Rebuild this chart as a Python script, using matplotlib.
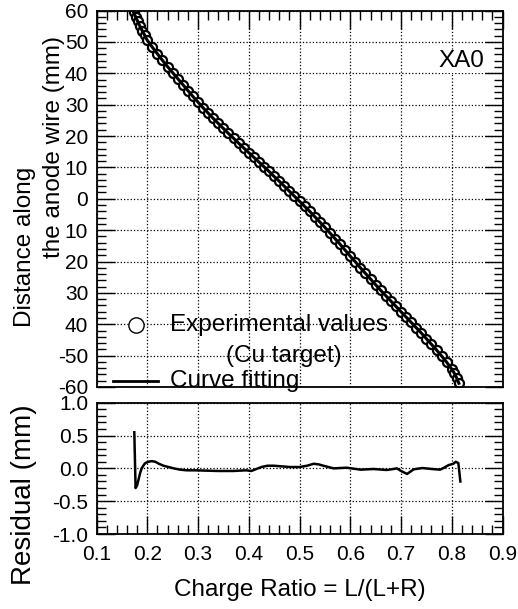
import numpy as np
import matplotlib
matplotlib.use("Agg")
import matplotlib.pyplot as plt
from matplotlib.ticker import MultipleLocator, FixedLocator, FixedFormatter

plt.rcParams['font.family'] = ['Liberation Sans', 'DejaVu Sans']

# position along the wire vs. charge ratio
ratio = [0.173, 0.177, 0.181, 0.185, 0.190, 0.195, 0.200, 0.210, 0.220, 0.230,
         0.240, 0.250, 0.260, 0.270, 0.280, 0.290, 0.300, 0.310, 0.320, 0.330,
         0.340, 0.350, 0.360, 0.370, 0.380, 0.390, 0.400, 0.410, 0.420, 0.430,
         0.440, 0.450, 0.460, 0.470, 0.480, 0.490, 0.500, 0.510, 0.520, 0.530,
         0.540, 0.550, 0.560, 0.570, 0.580, 0.590, 0.600, 0.610, 0.620, 0.630,
         0.640, 0.650, 0.660, 0.670, 0.680, 0.690, 0.700, 0.710, 0.720, 0.730,
         0.740, 0.750, 0.760, 0.770, 0.780, 0.790, 0.800, 0.805, 0.810, 0.814]
distance = [59.5, 58.0, 56.6, 55.2, 53.6, 52.1, 50.5, 48.3, 46.2, 44.1,
            42.1, 40.2, 38.3, 36.4, 34.5, 32.6, 30.8, 29.0, 27.3, 25.6,
            24.0, 22.4, 20.8, 19.3, 17.7, 16.2, 14.7, 13.2, 11.7, 10.2,
            8.7, 7.1, 5.6, 4.0, 2.4, 0.8, -0.8, -2.4, -4.0, -5.7,
            -7.4, -9.1, -10.9, -12.7, -14.5, -16.4, -18.3, -20.1, -22.0, -23.8,
            -25.6, -27.4, -29.2, -30.9, -32.6, -34.3, -36.0, -37.7, -39.4, -41.1,
            -42.8, -44.6, -46.4, -48.2, -50.1, -52.1, -54.3, -55.6, -57.2, -58.8]

# residual of the fit
res_x = [0.1745, 0.1770, 0.1800, 0.1825, 0.1860, 0.1890, 0.1930, 0.1960, 0.2020, 0.2090,
         0.2160, 0.2230, 0.2320, 0.2420, 0.2520, 0.2650, 0.2780, 0.2950, 0.3170, 0.3400,
         0.3690, 0.3950, 0.4050, 0.4150, 0.4250, 0.4370, 0.4490, 0.4650, 0.4820, 0.5000,
         0.5150, 0.5280, 0.5380, 0.5470, 0.5670, 0.5930, 0.6200, 0.6460, 0.6720, 0.6850,
         0.6920, 0.7000, 0.7120, 0.7250, 0.7420, 0.7610, 0.7770, 0.7850, 0.7940, 0.8030,
         0.8080, 0.8130, 0.8170]
res_y = [0.55, -0.30, -0.26, -0.18, -0.07, 0.00, 0.05, 0.08, 0.10, 0.11,
         0.10, 0.07, 0.04, 0.02, 0.00, -0.02, -0.03, -0.03, -0.035, -0.04,
         -0.04, -0.03, -0.04, -0.01, 0.02, 0.04, 0.04, 0.03, 0.02, 0.02,
         0.04, 0.07, 0.06, 0.04, 0.00, 0.01, -0.02, -0.01, -0.025, -0.01,
         0.00, -0.04, -0.085, -0.015, 0.005, -0.01, -0.02, 0.01, 0.05, 0.07,
         0.10, 0.08, -0.20]

dist_ticks = [60, 50, 40, 30, 20, 10, 0, -10, -20, -30, -40, -50, -60]
dist_labels = ['60', '50', '40', '30', '20', '10', '0', '10', '20', '30', '40', '-50', '-60']
res_ticks = [1.0, 0.5, 0.0, -0.5, -1.0]
res_labels = ['1.0', '0.5', '0.0', '-0.5', '-1.0']
x_ticks = [0.1, 0.2, 0.3, 0.4, 0.5, 0.6, 0.7, 0.8, 0.9]

W, H = 518, 609
fig = plt.figure(figsize=(W / 100, H / 100), dpi=100)


def px_axes(left, top, right, bottom):
    return [left / W, 1 - bottom / H, (right - left) / W, (bottom - top) / H]


ax = fig.add_axes(px_axes(96.5, 10.5, 502.5, 387))
ax2 = fig.add_axes(px_axes(96.5, 402.7, 502.5, 534))

tick_fs = 15
for a in (ax, ax2):
    a.set_xlim(0.1, 0.9)
    a.xaxis.set_major_locator(FixedLocator(x_ticks))
    a.xaxis.set_minor_locator(MultipleLocator(0.02))
    a.grid(True, which='major', color='black', linestyle=':', linewidth=0.9)
    for s in a.spines.values():
        s.set_linewidth(1.3)
    a.tick_params(which='major', direction='in', length=13, width=1.0,
                  labelsize=tick_fs, left=True, right=True)
    a.tick_params(which='minor', direction='in', length=6.5, width=1.0,
                  left=True, right=True)
    a.tick_params(axis='y', pad=6)

# upper panel
ax.plot(ratio, distance, linestyle='none', marker='o', markersize=6.5,
        markerfacecolor='white', markeredgecolor='black', markeredgewidth=1.6)
ax.plot(ratio, distance, color='black', linewidth=2.2)
ax.set_ylim(-60, 60)
ax.yaxis.set_major_locator(FixedLocator(dist_ticks))
ax.yaxis.set_major_formatter(FixedFormatter(dist_labels))
ax.yaxis.set_minor_locator(MultipleLocator(2))
ax.tick_params(axis='x', which='both', top=True, bottom=False,
               labelbottom=False, labeltop=False)

ax.text(0.955, 0.865, 'XA0', transform=ax.transAxes, fontsize=17.5,
        ha='right', va='center', zorder=5,
        bbox=dict(facecolor='white', edgecolor='none', pad=0.5))

# legend drawn by hand to keep the odd two-line layout
ax.plot([0.0973], [0.1647], transform=ax.transAxes, marker='o', markersize=11,
        markerfacecolor='white', markeredgecolor='black', markeredgewidth=1.0,
        linestyle='none', clip_on=False)
ax.text(0.181, 0.1647, 'Experimental values', transform=ax.transAxes,
        fontsize=17.5, ha='left', va='center')
ax.text(0.462, 0.0823, '(Cu target)', transform=ax.transAxes,
        fontsize=17.5, ha='center', va='center')
ax.plot([0.0406, 0.1515], [0.016, 0.016], transform=ax.transAxes,
        color='black', linewidth=2, clip_on=False)
ax.text(0.181, 0.016, 'Curve fitting', transform=ax.transAxes,
        fontsize=17.5, ha='left', va='center', clip_on=False)

# residual panel
ax2.plot(res_x, res_y, color='black', linewidth=1.8)
ax2.set_ylim(-1.0, 1.0)
ax2.yaxis.set_major_locator(FixedLocator(res_ticks))
ax2.yaxis.set_major_formatter(FixedFormatter(res_labels))
ax2.yaxis.set_minor_locator(MultipleLocator(0.1))
ax2.tick_params(axis='x', which='both', top=False, bottom=True, pad=8)

fig.text(299.5 / W, 1 - 590 / H, 'Charge Ratio = L/(L+R)', fontsize=17.5,
         ha='center', va='center')
fig.text(24 / W, 1 - 495 / H, 'Residual (mm)', fontsize=20, rotation=90,
         ha='center', va='center')
fig.text(25 / W, 1 - 247 / H, 'Distance along', fontsize=17.5, rotation=90,
         ha='center', va='center')
fig.text(54 / W, 1 - 147 / H, 'the anode wire (mm)', fontsize=17.5, rotation=90,
         ha='center', va='center')

fig.savefig('out.png', dpi=100)
